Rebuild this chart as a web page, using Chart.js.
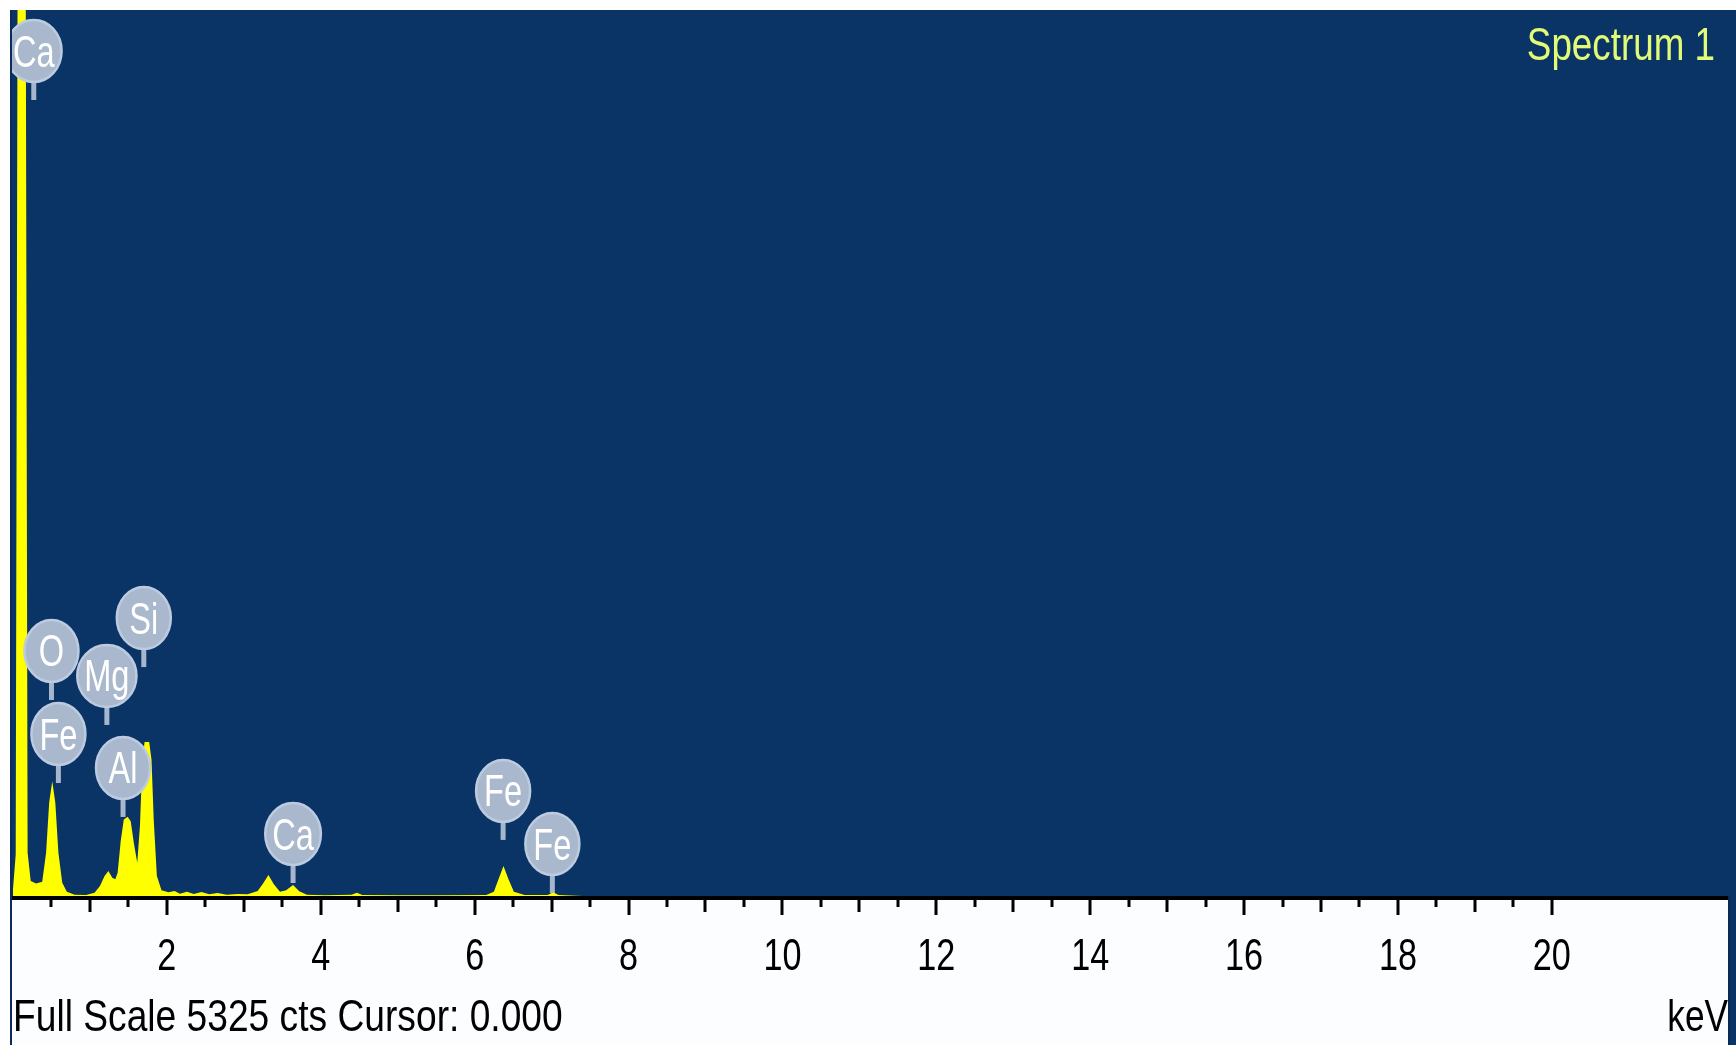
<!DOCTYPE html>
<html>
<head>
<meta charset="utf-8">
<title>Spectrum 1</title>
<script src="https://cdn.jsdelivr.net/npm/chart.js@4.4.1/dist/chart.umd.min.js"></script>
<style>
  html, body { margin: 0; padding: 0; background: #ffffff; }
  #wrap { width: 1736px; height: 1045px; position: relative; }
  canvas { display: block; }
</style>
</head>
<body>
<div id="wrap"><canvas id="eds" width="1736" height="1045"></canvas></div>
<script>
// EDS spectrum: energy (keV) against counts
const energyKeV = [
  0.00, 0.035, 0.06, 0.165, 0.19, 0.23, 0.30, 0.38, 0.43, 0.47,
  0.51, 0.55, 0.59, 0.64, 0.70, 0.80, 0.95, 1.06, 1.13, 1.19,
  1.24, 1.29, 1.33, 1.36, 1.40, 1.44, 1.49, 1.53, 1.57, 1.615,
  1.65, 1.68, 1.71, 1.77, 1.80, 1.83, 1.87, 1.93, 2.02, 2.10,
  2.17, 2.26, 2.35, 2.45, 2.55, 2.66, 2.78, 2.92, 3.05, 3.18,
  3.25, 3.32, 3.39, 3.47, 3.55, 3.64, 3.72, 3.82, 4.05, 4.40,
  4.47, 4.54, 5.00, 5.60, 6.15, 6.25, 6.31, 6.375, 6.44, 6.51,
  6.65, 6.95, 7.02, 7.09, 7.40, 9.00, 12.00, 16.00, 22.29
];
const counts = [
  40, 250, 5600, 5600, 260, 90, 75, 85, 260, 560,
  690, 560, 260, 80, 25, 8, 6, 20, 60, 120,
  150, 110, 100, 140, 330, 460, 477, 450, 320, 200,
  420, 800, 926, 926, 820, 450, 120, 35, 22, 30,
  14, 26, 12, 24, 10, 18, 8, 12, 10, 30,
  75, 126, 70, 25, 35, 66, 28, 8, 5, 8,
  20, 6, 4, 4, 6, 25, 100, 180, 100, 25,
  6, 6, 22, 6, 0, 0, 0, 0, 0
];

// axis
const fullScaleCounts = 5325;
const energyMaxKeV = 22.29;
const tickLabels = [2, 4, 6, 8, 10, 12, 14, 16, 18, 20];

// element line markers
const lineNames     = ['Ca', 'O', 'Mg', 'Si', 'Fe', 'Al', 'Ca', 'Fe', 'Fe'];
const lineKeV       = [0.27, 0.50, 1.22, 1.70, 0.59, 1.43, 3.64, 6.37, 7.01];
const lineTipCounts = [4784, 1178, 1028, 1376, 679, 475, 78, 337, 18];

const W = 1736, H = 1045;
const FONT = '"Liberation Sans", Arial, sans-serif';

function squeezedText(ctx, text, x, y, size, sx, align, color) {
  ctx.save();
  ctx.translate(x, y);
  ctx.scale(sx, 1);
  ctx.font = size + 'px ' + FONT;
  ctx.textAlign = align;
  ctx.textBaseline = 'alphabetic';
  ctx.fillStyle = color;
  ctx.fillText(text, 0, 0);
  ctx.restore();
}

const edsDecor = {
  id: 'edsDecor',
  beforeDraw(chart) {
    const { ctx, chartArea: a } = chart;
    ctx.save();
    ctx.fillStyle = '#ffffff';
    ctx.fillRect(0, 0, W, H);
    // plot background
    ctx.fillStyle = '#0a3366';
    ctx.fillRect(a.left - 1, a.top, W - a.left + 1, a.bottom - a.top);
    // lower panel
    ctx.fillStyle = '#fbfdff';
    ctx.fillRect(a.left - 1, a.bottom, a.right - a.left + 1, H - a.bottom);
    // frame edges
    ctx.fillStyle = '#0b2b58';
    ctx.fillRect(a.left - 3, a.top, 2, H - a.top);
    ctx.fillStyle = '#0a3366';
    ctx.fillRect(a.right, a.top, W - a.right, H - a.top);
    ctx.fillStyle = '#082a55';
    ctx.fillRect(a.right, a.bottom, 2, H - a.bottom);
    ctx.restore();
  },
  afterDatasetsDraw(chart) {
    const { ctx, chartArea: a, scales } = chart;
    ctx.save();
    ctx.beginPath();
    ctx.rect(a.left - 1, a.top, a.right - a.left + 1, a.bottom - a.top);
    ctx.clip();
    for (let i = 0; i < lineNames.length; i++) {
      const px = scales.x.getPixelForValue(lineKeV[i]);
      const tip = scales.y.getPixelForValue(lineTipCounts[i]);
      const cy = tip - 49;
      ctx.font = '44px ' + FONT;
      const tw = ctx.measureText(lineNames[i]).width * 0.74;
      const rx = Math.max(27, tw / 2 + 7);
      const ry = 31;
      // stem
      ctx.strokeStyle = '#a6b7cd';
      ctx.lineWidth = 5;
      ctx.beginPath();
      ctx.moveTo(px, cy + ry - 2);
      ctx.lineTo(px, tip);
      ctx.stroke();
      // bubble
      ctx.beginPath();
      ctx.ellipse(px, cy, rx, ry, 0, 0, Math.PI * 2);
      ctx.fillStyle = '#a9b8cc';
      ctx.fill();
      ctx.lineWidth = 2.5;
      ctx.strokeStyle = '#bccbe0';
      ctx.stroke();
      squeezedText(ctx, lineNames[i], px, cy + 15.5, 44, 0.74, 'center', '#ffffff');
    }
    ctx.restore();
  },
  afterDraw(chart) {
    const { ctx, chartArea: a, scales } = chart;
    const x = scales.x;
    ctx.save();
    // axis line
    ctx.fillStyle = '#000000';
    ctx.fillRect(a.left - 1, a.bottom, a.right - a.left + 1, 4);
    // tick marks every 0.5 keV up to the last labelled value
    const last = tickLabels[tickLabels.length - 1];
    for (let k = 1; k <= last * 2; k++) {
      const v = k / 2;
      const px = Math.round(x.getPixelForValue(v));
      let len = 11;
      if (v % 2 === 0) len = 19;
      else if (v % 1 === 0) len = 16;
      ctx.fillRect(px - 1.5, a.bottom, 3, len);
    }
    tickLabels.forEach(v => {
      squeezedText(ctx, String(v), x.getPixelForValue(v), 970, 45, 0.76, 'center', '#000000');
    });
    squeezedText(ctx, 'Full Scale ' + fullScaleCounts + ' cts Cursor: 0.000', a.left, 1031, 44, 0.845, 'left', '#000000');
    squeezedText(ctx, 'keV', a.right, 1031, 44, 0.80, 'right', '#000000');
    squeezedText(ctx, 'Spectrum 1', 1715, 60, 46, 0.80, 'right', '#e1fa78');
    ctx.restore();
  }
};

new Chart(document.getElementById('eds'), {
  type: 'line',
  data: {
    datasets: [{
      label: 'Spectrum 1',
      data: energyKeV.map((e, i) => ({ x: e, y: counts[i] })),
      borderColor: '#ffff00',
      backgroundColor: '#ffff00',
      borderWidth: 0,
      fill: 'origin',
      pointRadius: 0,
      tension: 0
    }]
  },
  options: {
    responsive: false,
    animation: false,
    devicePixelRatio: 1,
    layout: { padding: { left: 13, top: 10, right: 8, bottom: 149 } },
    plugins: { legend: { display: false }, tooltip: { enabled: false } },
    scales: {
      x: { type: 'linear', min: 0, max: energyMaxKeV, display: false },
      y: { min: 0, max: fullScaleCounts, display: false }
    }
  },
  plugins: [edsDecor]
});
</script>
</body>
</html>
